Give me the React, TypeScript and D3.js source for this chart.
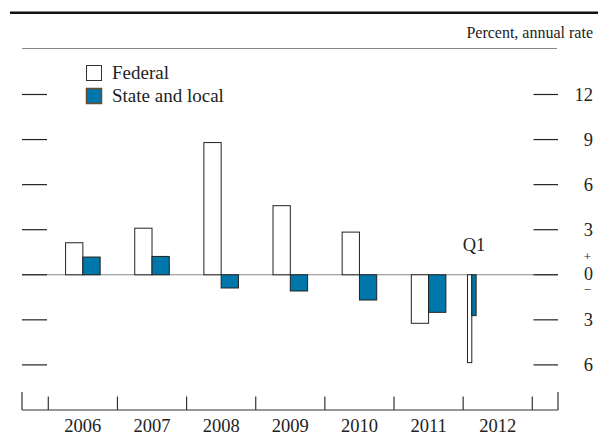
import React from "react";
import * as d3 from "d3";

const periods = ["2006", "2007", "2008", "2009", "2010", "2011", "2012 Q1"];
const periodStart = [2006, 2007, 2008, 2009, 2010, 2011, 2012];
const periodLength = [1, 1, 1, 1, 1, 1, 0.25];
const federal = [2.13, 3.1, 8.8, 4.6, 2.84, -3.23, -5.85];
const stateLocal = [1.18, 1.22, -0.88, -1.08, -1.68, -2.5, -2.72];
const yearLabels = ["2006", "2007", "2008", "2009", "2010", "2011", "2012"];
const yTicks = [12, 9, 6, 3, 0, -3, -6];

const W = 598;
const H = 435;
const FONT = "'Liberation Serif', 'Times New Roman', serif";
const BLUE = "#0077aa";

export default function App() {
  const x = d3.scaleLinear().domain([2006, 2013]).range([48.3, 532.3]);
  const y = d3.scaleLinear().domain([-6, 12]).range([364.9, 94.5]);
  const axisLeft = 22;
  const axisRight = 558;
  const axisY = 410;

  const bars: JSX.Element[] = [];
  periods.forEach((p, i) => {
    const s = x(periodStart[i]);
    const e = x(periodStart[i] + periodLength[i]);
    const bw = (e - s) * 0.25;
    const c = (s + e) / 2;
    const f = federal[i];
    const st = stateLocal[i];
    bars.push(
      <rect
        key={"f" + i}
        x={c - bw}
        y={Math.min(y(f), y(0))}
        width={bw}
        height={Math.abs(y(f) - y(0))}
        fill="#fff"
        stroke="#222"
        strokeWidth={1}
      />
    );
    bars.push(
      <rect
        key={"s" + i}
        x={c}
        y={Math.min(y(st), y(0))}
        width={bw}
        height={Math.abs(y(st) - y(0))}
        fill={BLUE}
        stroke="#222"
        strokeWidth={1}
      />
    );
  });

  const yearEdges = d3.range(2006, 2014);

  return (
    <svg width={W} height={H} style={{ position: "absolute", left: 0, top: 0 }} fontFamily={FONT}>
      <rect x={0} y={0} width={W} height={H} fill="#fff" />
      {/* top rule */}
      <rect x={10} y={11.5} width={W - 10} height={2.5} fill="#111" />
      <text x={593} y={38} fontSize={16} textAnchor="end" fill="#222">
        Percent, annual rate
      </text>
      <line x1={22} x2={557} y1={48.5} y2={48.5} stroke="#888" strokeWidth={1.2} />

      {/* legend */}
      <rect x={86.5} y={65.5} width={15} height={15} fill="#fff" stroke="#333" strokeWidth={1} />
      <text x={112} y={78.5} fontSize={19} fill="#222">Federal</text>
      <rect x={86.5} y={88.5} width={15} height={15} fill={BLUE} stroke="#6b4c2a" strokeWidth={1.5} />
      <text x={112} y={102} fontSize={19} fill="#222">State and local</text>

      {/* zero line */}
      <line x1={axisLeft} x2={axisRight} y1={y(0)} y2={y(0)} stroke="#888" strokeWidth={1.2} />

      {/* y ticks */}
      {yTicks.map((t) => (
        <g key={t}>
          <line x1={22} x2={47} y1={y(t)} y2={y(t)} stroke="#222" strokeWidth={1.2} />
          <line x1={533.5} x2={558} y1={y(t)} y2={y(t)} stroke="#222" strokeWidth={1.2} />
          {t !== 0 && (
            <text x={593} y={y(t)} dy="0.35em" fontSize={18.5} textAnchor="end" fill="#222">
              {Math.abs(t)}
            </text>
          )}
        </g>
      ))}
      <text x={587.5} y={y(0) - 18.5} dy="0.35em" fontSize={13} textAnchor="middle" fill="#222">+</text>
      <text x={593} y={y(0) - 1.5} dy="0.35em" fontSize={18} textAnchor="end" fill="#222">0</text>
      <text x={587.5} y={y(0) + 15} dy="0.35em" fontSize={13} textAnchor="middle" fill="#222">−</text>

      {bars}

      {/* Q1 label */}
      <text x={474} y={251} fontSize={18.5} textAnchor="middle" fill="#222">Q1</text>

      {/* bottom axis */}
      <line x1={axisLeft} x2={axisRight} y1={axisY} y2={axisY} stroke="#333" strokeWidth={1.2} />
      <line x1={axisLeft} x2={axisLeft} y1={392} y2={axisY} stroke="#333" strokeWidth={1.2} />
      <line x1={axisRight} x2={axisRight} y1={392} y2={axisY} stroke="#333" strokeWidth={1.2} />
      {yearEdges.map((yr) => (
        <line key={yr} x1={x(yr)} x2={x(yr)} y1={396.5} y2={axisY} stroke="#333" strokeWidth={1.2} />
      ))}
      {yearLabels.map((lab, i) => (
        <text
          key={lab}
          x={(x(2006 + i) + x(2007 + i)) / 2}
          y={431.5}
          fontSize={18.5}
          textAnchor="middle"
          fill="#222"
        >
          {lab}
        </text>
      ))}
    </svg>
  );
}
